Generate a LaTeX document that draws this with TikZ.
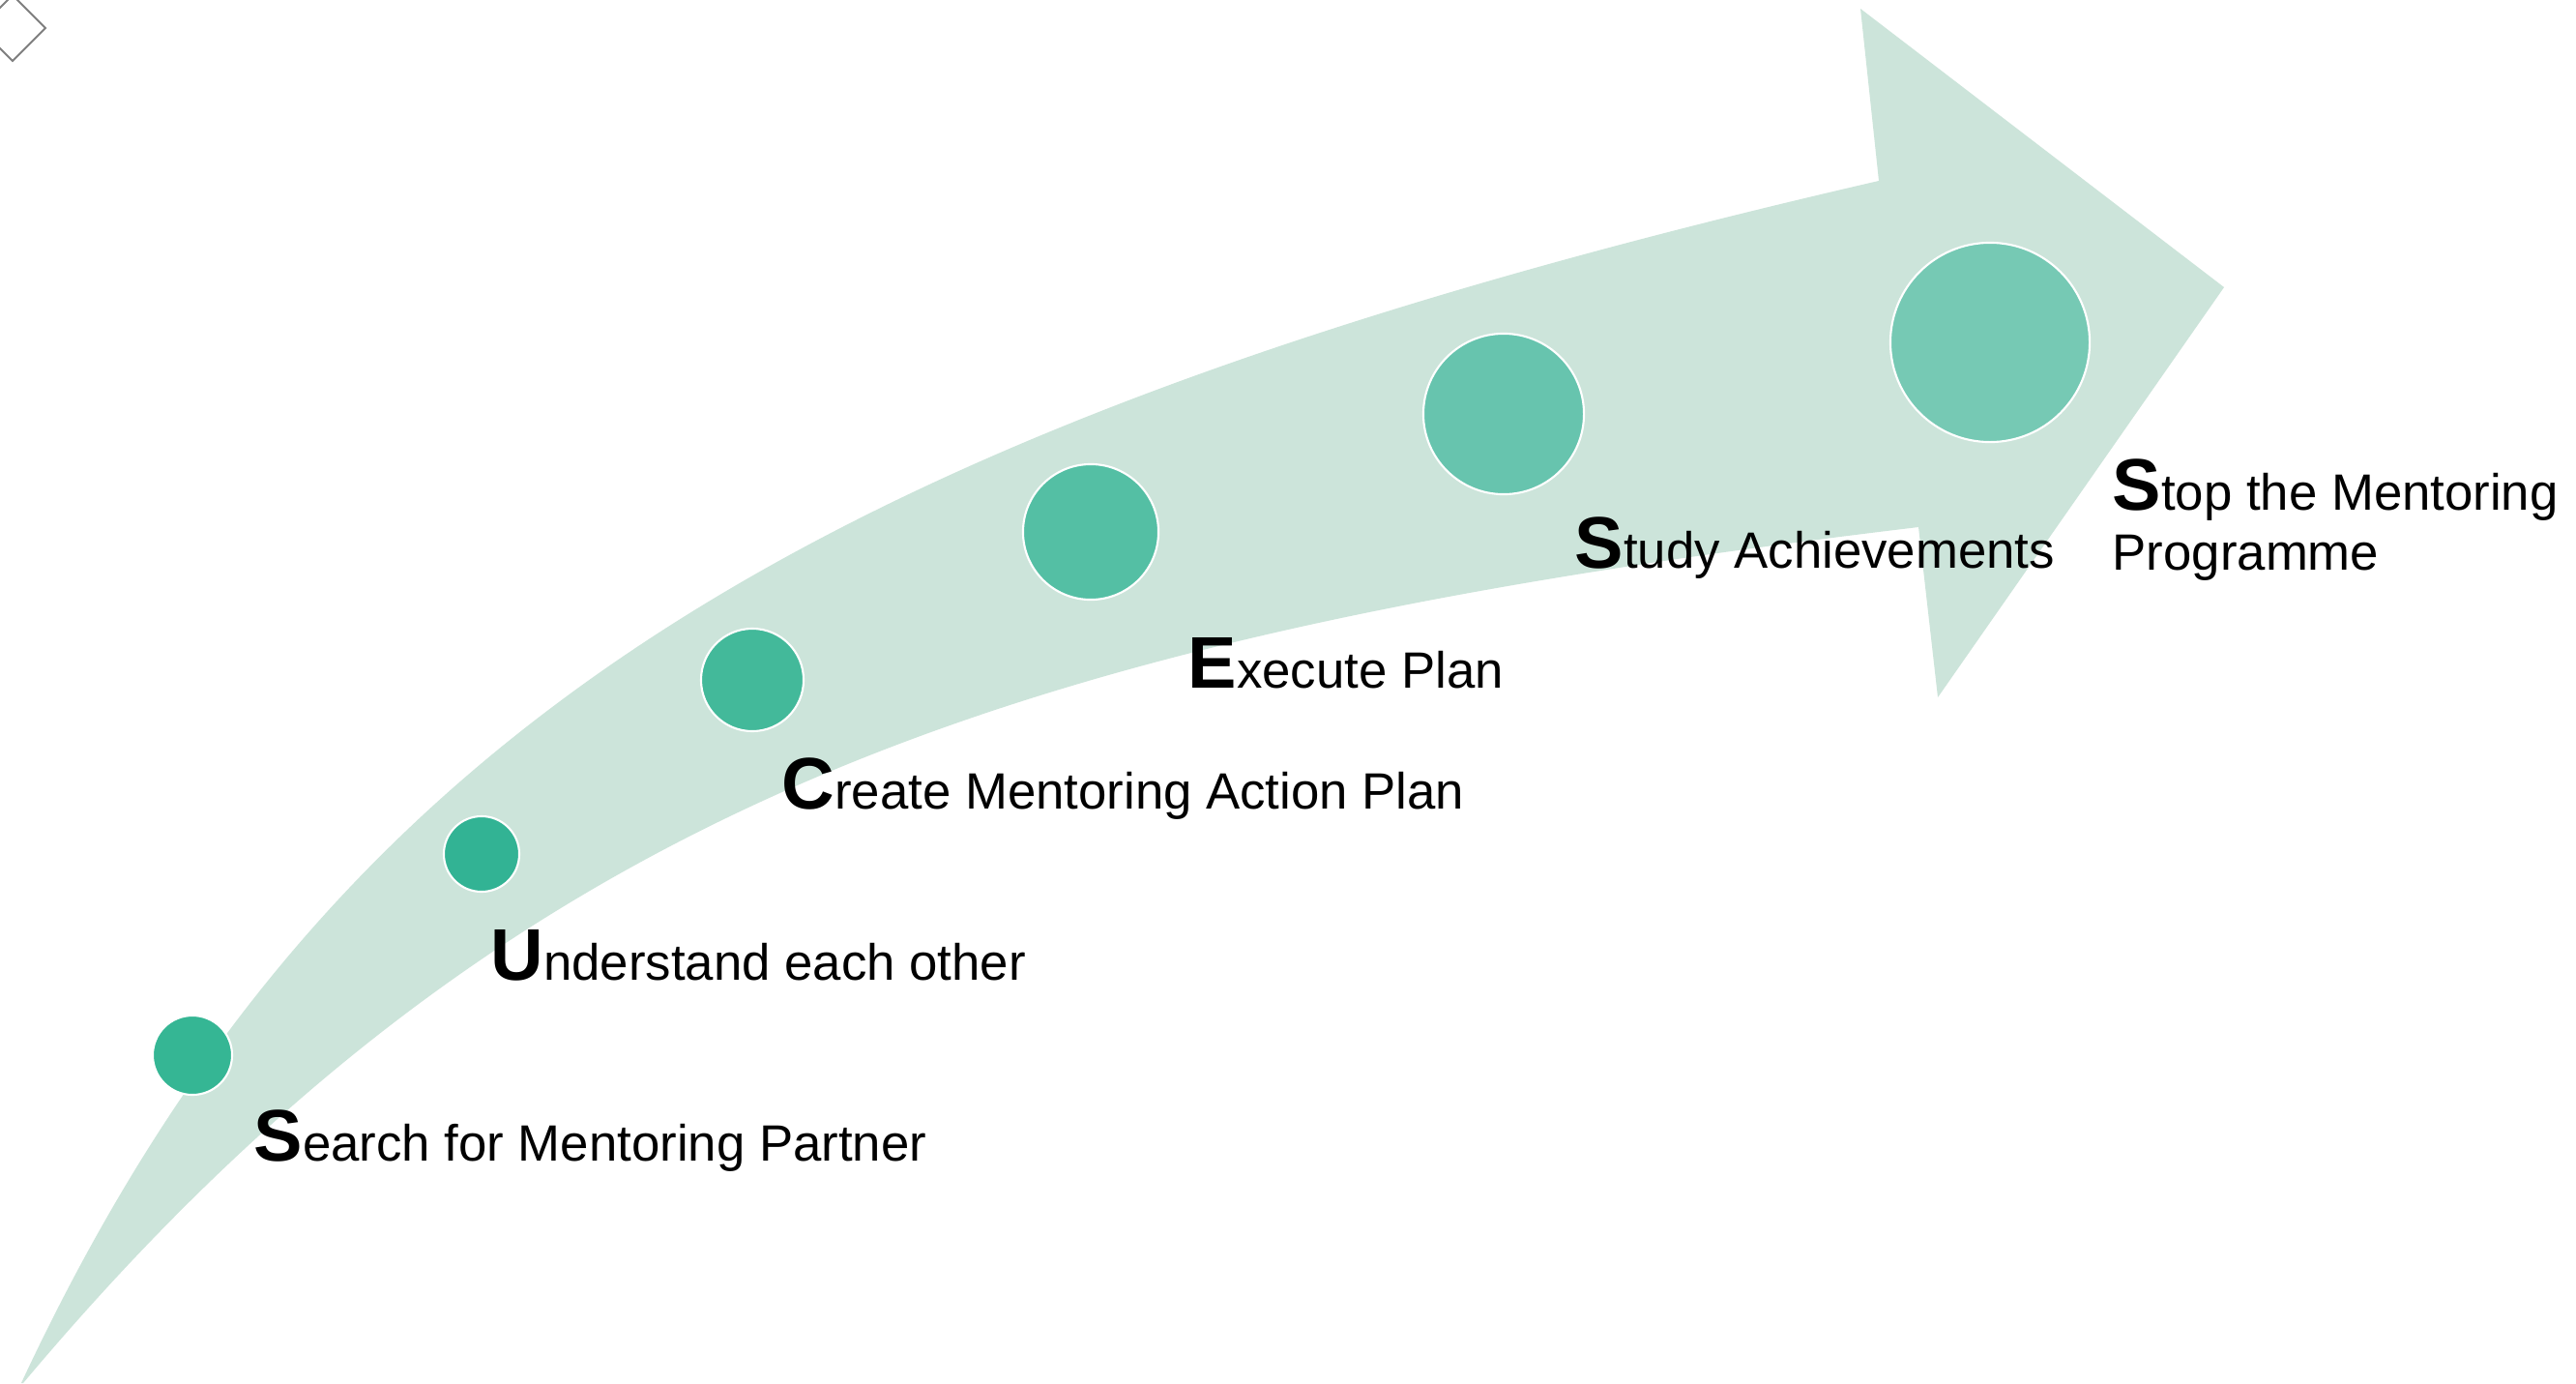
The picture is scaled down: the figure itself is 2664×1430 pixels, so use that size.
\documentclass[tikz,border=0pt]{standalone}
\usepackage{fontspec}
\setmainfont{Liberation Sans}
\definecolor{band}{HTML}{CCE4DA}
\definecolor{frame}{HTML}{808080}
\definecolor{g1}{HTML}{35B694}
\definecolor{g2}{HTML}{32B394}
\definecolor{g3}{HTML}{43B99A}
\definecolor{g4}{HTML}{54BFA4}
\definecolor{g5}{HTML}{67C4AE}
\definecolor{g6}{HTML}{76C9B4}
\tikzstyle{dot}=[circle, draw=white, line width=0.6pt, inner sep=0]
\tikzstyle{stage}=[%
	anchor=base west, inner sep=0, align=left,
	font=\fontsize{15}{17.4}\selectfont
]
\newcommand{\bigletter}[1]{{\fontsize{21.5}{22}\selectfont\bfseries #1}}

\begin{document}
\begin{tikzpicture}[x=0.01cm, y=-0.01cm]
	\useasboundingbox (0,0) rectangle (2664,1430);
	\draw[fill=white, draw=none] (0,0) rectangle (2664,1430);

	\draw[frame, line width=0.6pt] (13,-5) -- (47,29) -- (13,63) -- (-21,29) -- cycle;

	\fill[band] (22,1430) .. controls (334,762) and (827,444) .. (1943,187)%
		-- (1924,9) -- (2300,297) -- (2004,721) -- (1984,545)%
		.. controls (1048,657) and (528,830) .. (24,1430) -- cycle;

	\node[dot, fill=g1, minimum size=8.2mm]  (s1) at (199,1091) {};
	\node[dot, fill=g2, minimum size=7.8mm]  (s2) at (498,883)  {};
	\node[dot, fill=g3, minimum size=10.6mm] (s3) at (778,703)  {};
	\node[dot, fill=g4, minimum size=14mm]   (s4) at (1128,550) {};
	\node[dot, fill=g5, minimum size=16.6mm] (s5) at (1555,428) {};
	\node[dot, fill=g6, minimum size=20.6mm] (s6) at (2058,354) {};

	\node[stage] (search)     at (262,1200) {\bigletter{S}earch for Mentoring Partner};
	\node[stage] (understand) at (507,1013) {\bigletter{U}nderstand each other};
	\node[stage] (create)     at (808,836)  {\bigletter{C}reate Mentoring Action Plan};
	\node[stage] (execute)    at (1228,711) {\bigletter{E}xecute Plan};
	\node[stage] (study)      at (1628,587) {\bigletter{S}tudy Achievements};
	\node[stage] (stop)       at (2184,589) {\bigletter{S}top the Mentoring\\Programme};
\end{tikzpicture}
\end{document}
